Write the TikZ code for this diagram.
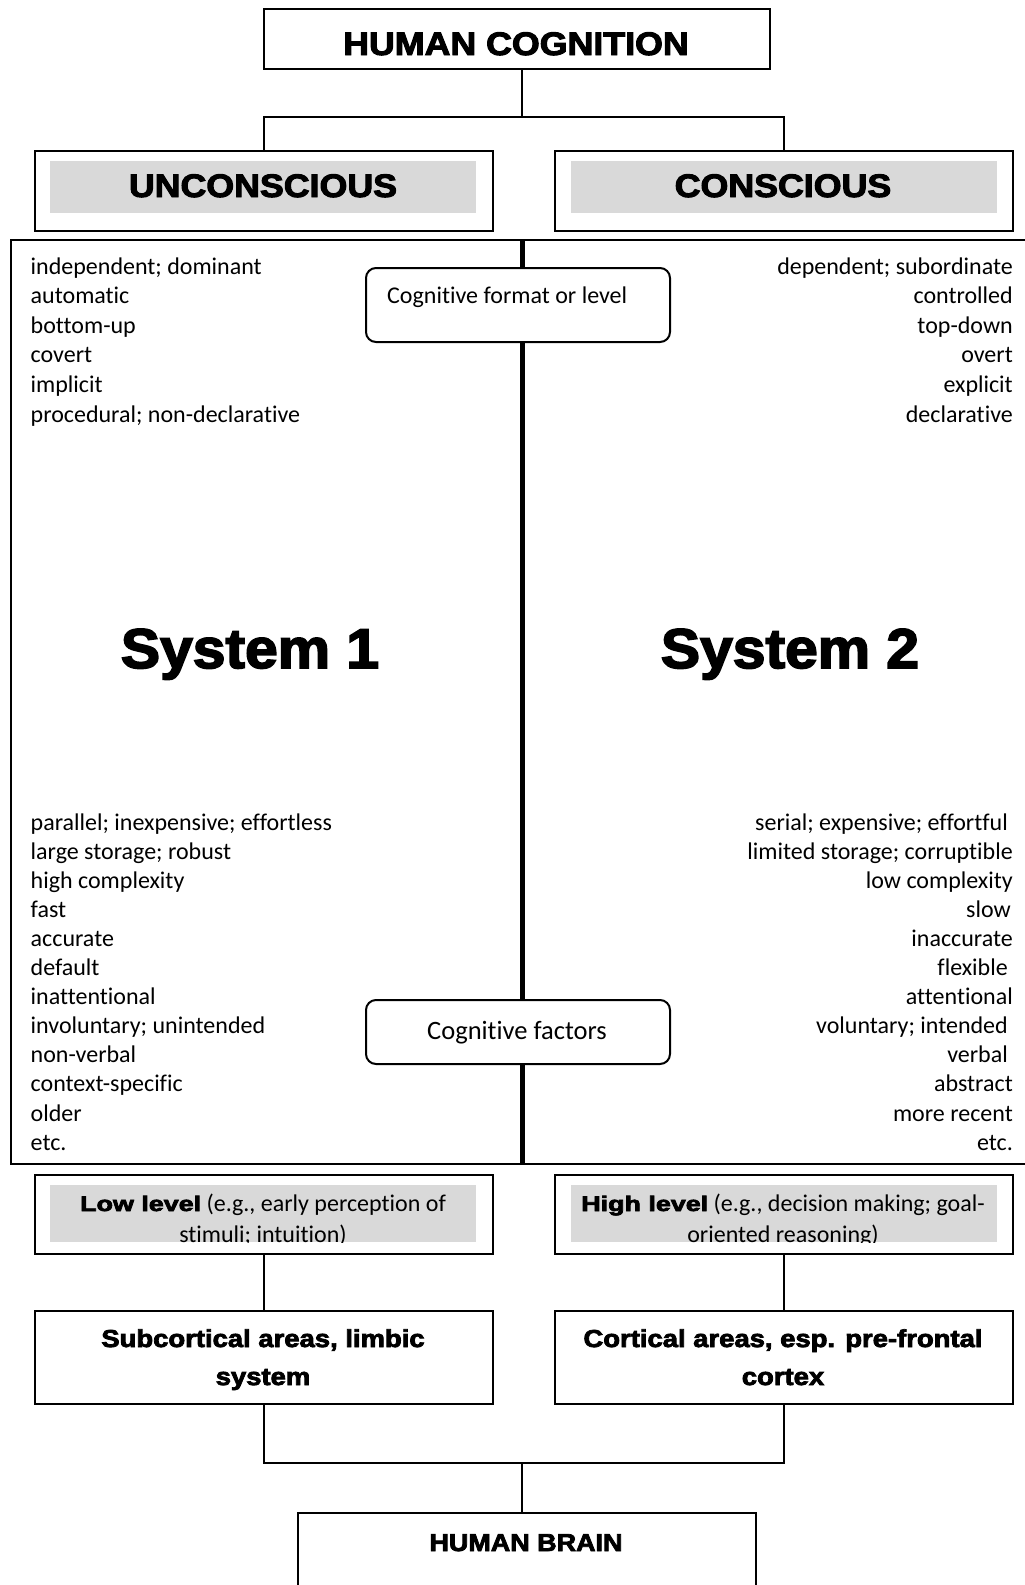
\documentclass[tikz,border=0pt]{standalone}
\usepackage{fontspec}
\usepackage{graphicx}
\setmainfont{Carlito}[Ligatures={NoCommon}]
\newfontfamily\heavy{Liberation Sans Bold}[FakeBold=3]
\newcommand\heavytext[3]{{\heavy\fontsize{#1}{#1}\selectfont\scalebox{#2}[1]{#3}}}
\definecolor{graybar}{HTML}{D9D9D9}
\tikzset{
  box/.style={draw, line width=2pt, inner sep=0pt, anchor=north west},
  rbox/.style={draw, line width=2pt, rounded corners=10pt, fill=white, inner sep=0pt, anchor=north west},
  bar/.style={fill=graybar, inner sep=0pt, anchor=north west},
  conn/.style={line width=1.5pt},
  item/.style={font=\fontsize{24}{29}\selectfont, inner sep=0pt},
  lft/.style={item, anchor=base west},
  rgt/.style={item, anchor=base east},
  ctext/.style={inner sep=0pt, anchor=base},
  body/.style={font=\fontsize{24}{29}\selectfont}
}
\begin{document}
\begin{tikzpicture}[x=1pt,y=-1pt]
\useasboundingbox (0,0) rectangle (1025,1585);
\clip (0,0) rectangle (1025,1585);

% ---------- top ----------
\node[box, minimum width=506pt, minimum height=60pt] (hc) at (263,8) {};
\node[ctext] (hct) at (516,55) {\heavytext{32.5}{1.1}{HUMAN COGNITION}};

\node[box, minimum width=458pt, minimum height=80pt] (unc) at (34,150) {};
\node[bar, minimum width=426pt, minimum height=52pt] (uncbar) at (50,161) {};
\node[ctext] (unct) at (263,197) {\heavytext{32.5}{1.1}{UNCONSCIOUS}};

\node[box, minimum width=458pt, minimum height=80pt] (con) at (554,150) {};
\node[bar, minimum width=426pt, minimum height=52pt] (conbar) at (571,161) {};
\node[ctext] (cont) at (783,197) {\heavytext{32.5}{1.1}{CONSCIOUS}};

\coordinate (j1) at (522,117);
\draw[conn] (j1 |- hc.south) -- (j1);
\draw[conn] (unc.north) |- (j1) -| (con.north);

% ---------- main panel ----------
\node[box, minimum width=1030pt, minimum height=924pt] (main) at (9.5,239) {};
\draw[line width=5pt] (main.north -| j1) -- (main.south -| j1);

\node[rbox, minimum width=304pt, minimum height=74pt] (cfl) at (365,267) {};
\node[item, anchor=base west] (cflt) at (387,303) {Cognitive format or level};

\node[rbox, minimum width=304pt, minimum height=64pt] (cf) at (365,999) {};
\node[inner sep=0pt, anchor=base, font=\fontsize{26.5}{30}\selectfont] (cft) at (517,1039) {Cognitive factors};

\node[ctext] (s1) at (250,668) {\heavytext{56}{1.05}{System 1}};
\node[ctext] (s2) at (790,668) {\heavytext{56}{1.05}{System 2}};

\foreach \t [count=\i] in {independent; dominant, automatic, bottom-up, covert, implicit, procedural; non-declarative}
  \node[lft] (lt\i) at (30.5,{274+29.6*(\i-1)}) {\t};
\foreach \t [count=\i] in {dependent; subordinate, controlled, top-down, overt, explicit, declarative}
  \node[rgt] (rt\i) at (1013,{274+29.6*(\i-1)}) {\t};

\foreach \t [count=\i] in {parallel; inexpensive; effortless, large storage; robust, high complexity, fast, accurate, default, inattentional, involuntary; unintended, non-verbal, context-specific, older, etc.}
  \node[lft] (lb\i) at (30.5,{830+29.1*(\i-1)}) {\t};
\foreach \t [count=\i] in {serial; expensive; effortful\kern5pt, limited storage; corruptible, low complexity, slow\kern2pt, inaccurate, flexible\kern5pt, attentional, voluntary; intended\kern5pt, verbal\kern5pt, abstract, more recent, etc.}
  \node[rgt] (rb\i) at (1013,{830+29.1*(\i-1)}) {\t};

% ---------- level boxes ----------
\node[box, minimum width=458pt, minimum height=79pt] (low) at (34,1174) {};
\node[bar, minimum width=426pt, minimum height=57pt] (lowbar) at (50,1185) {};
\node[box, minimum width=458pt, minimum height=79pt] (high) at (554,1174) {};
\node[bar, minimum width=426pt, minimum height=57pt] (highbar) at (571,1185) {};
\begin{scope}
  \clip (50,1185) rectangle (476,1242);
  \node[ctext, body] (lowt1) at (263,1211) {\heavytext{21}{1.28}{Low level} (e.g., early perception of};
  \node[ctext, body] (lowt2) at (263,1242) {stimuli; intuition)};
\end{scope}
\begin{scope}
  \clip (571,1185) rectangle (997,1242);
  \node[ctext, body] (hight1) at (783,1211) {\heavytext{21}{1.28}{High level} (e.g., decision making; goal-};
  \node[ctext, body] (hight2) at (783,1242) {oriented reasoning)};
\end{scope}

% ---------- brain areas ----------
\node[box, minimum width=458pt, minimum height=93pt] (sub) at (34,1310) {};
\node[ctext] (subt1) at (263,1347) {\heavytext{24.5}{1.12}{Subcortical areas, limbic}};
\node[ctext] (subt2) at (263,1385) {\heavytext{24.5}{1.12}{system}};
\node[box, minimum width=458pt, minimum height=93pt] (cort) at (554,1310) {};
\node[ctext] (cortt1) at (783,1347) {\heavytext{24.5}{1.12}{Cortical areas, esp. pre-frontal}};
\node[ctext] (cortt2) at (783,1385) {\heavytext{24.5}{1.12}{cortex}};

\draw[conn] (low.south) -- (sub.north);
\draw[conn] (high.south) -- (cort.north);

\node[box, minimum width=458pt, minimum height=120pt] (brain) at (297,1512) {};
\node[ctext] (braint) at (526,1551) {\heavytext{24.5}{1.1}{HUMAN BRAIN}};

\coordinate (j2) at (522,1463);
\draw[conn] (sub.south) |- (j2) -| (cort.south);
\draw[conn] (j2) -- (j2 |- brain.north);
\end{tikzpicture}
\end{document}
